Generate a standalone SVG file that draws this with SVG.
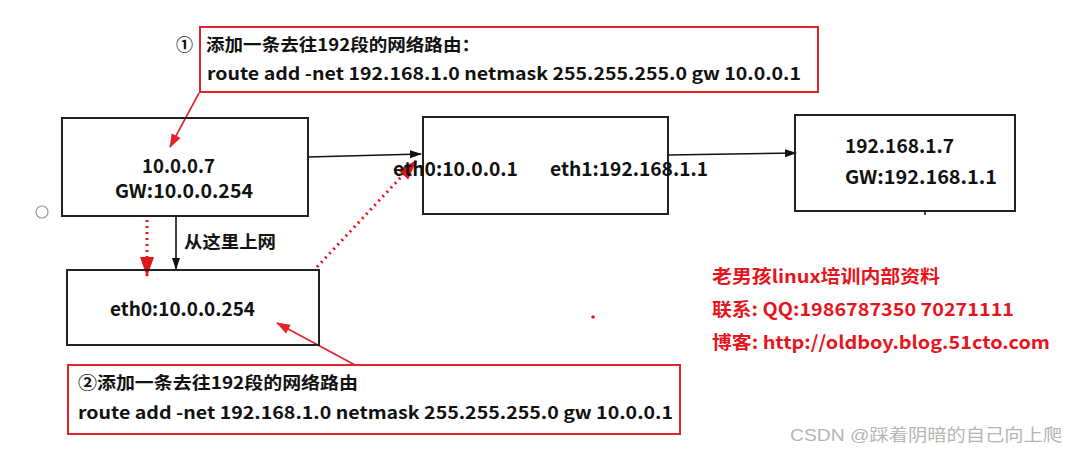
<svg xmlns="http://www.w3.org/2000/svg" width="1074" height="453" viewBox="0 0 1074 453">
<defs>
<style>
.t{font-family:"Noto Sans CJK SC","Liberation Sans",sans-serif;font-weight:bold;font-size:17px;fill:#111}
.n{font-size:19px}
.r{font-family:"Noto Sans CJK SC","Liberation Sans",sans-serif;font-weight:bold;font-size:18px;fill:#e8141c}
.box{fill:none;stroke:#222;stroke-width:2}
.rbox{fill:none;stroke:#e3232b;stroke-width:2}
.bl{stroke:#111;stroke-width:1.6;fill:none}
.rl{stroke:#e3232b;stroke-width:1.6;fill:none}
.rd{stroke:#e8141c;stroke-width:3;stroke-dasharray:2 4;fill:none}
</style>
<marker id="ab" markerWidth="12" markerHeight="10" refX="11" refY="5" orient="auto" markerUnits="userSpaceOnUse"><path d="M0,1 L12,5 L0,9 Z" fill="#111"/></marker>
<marker id="ar" markerWidth="14" markerHeight="12" refX="13" refY="6" orient="auto" markerUnits="userSpaceOnUse"><path d="M0,1 L14,6 L0,11 Z" fill="#e3232b"/></marker>
<marker id="ard" markerWidth="20" markerHeight="16" refX="19" refY="8" orient="auto" markerUnits="userSpaceOnUse"><path d="M0,1 L20,8 L0,15 Z" fill="#e8141c"/></marker>
</defs>
<rect width="1074" height="453" fill="#fff"/>

<g id="connectors">
<line class="bl" x1="308" y1="157" x2="421" y2="154" marker-end="url(#ab)"/>
<line class="bl" x1="668" y1="155" x2="796" y2="153" marker-end="url(#ab)"/>
<line class="bl" x1="176" y1="216" x2="176" y2="269" marker-end="url(#ab)"/>
<line class="rd" x1="147" y1="220" x2="147" y2="276" marker-end="url(#ard)"/>
<line class="rd" x1="317" y1="267" x2="416" y2="161" marker-end="url(#ard)"/>
<line class="rl" x1="199" y1="93" x2="170" y2="147" marker-end="url(#ar)"/>
<line class="rl" x1="355" y1="365" x2="277" y2="323" marker-end="url(#ar)"/>
<text class="t" x="184" y="248" font-size="16" textLength="92" lengthAdjust="spacingAndGlyphs">从这里上网</text>
</g>

<g id="note1">
<rect class="rbox" x="200" y="27" width="618" height="65"/>
<text class="t" x="176" y="51" font-size="16" font-weight="normal">①</text>
<text class="t" x="206" y="51" font-size="17" textLength="274" lengthAdjust="spacingAndGlyphs">添加一条去往192段的网络路由：</text>
<text class="t" x="207" y="80" textLength="594" lengthAdjust="spacingAndGlyphs">route add -net 192.168.1.0 netmask 255.255.255.0 gw 10.0.0.1</text>
</g>

<g id="host">
<rect class="box" x="62" y="118" width="246" height="98"/>
<text class="t n" x="142" y="173" textLength="73" lengthAdjust="spacingAndGlyphs">10.0.0.7</text>
<text class="t n" x="115" y="198" textLength="138" lengthAdjust="spacingAndGlyphs">GW:10.0.0.254</text>
</g>

<g id="gateway">
<rect class="box" x="67" y="270" width="252" height="75"/>
<text class="t n" x="110" y="316" textLength="145" lengthAdjust="spacingAndGlyphs">eth0:10.0.0.254</text>
</g>

<g id="router">
<rect class="box" x="423" y="117" width="245" height="97"/>
<text class="t n" x="393" y="176" textLength="125" lengthAdjust="spacingAndGlyphs">eth0:10.0.0.1</text>
<text class="t n" x="550" y="176" textLength="158" lengthAdjust="spacingAndGlyphs">eth1:192.168.1.1</text>
</g>

<g id="target">
<rect class="box" x="795" y="115" width="220" height="96"/>
<text class="t n" x="845" y="153" textLength="109" lengthAdjust="spacingAndGlyphs">192.168.1.7</text>
<text class="t n" x="845" y="184" textLength="152" lengthAdjust="spacingAndGlyphs">GW:192.168.1.1</text>
<line x1="925" y1="211" x2="925" y2="215" stroke="#111" stroke-width="1.5"/>
</g>

<g id="note2">
<rect class="rbox" x="68" y="365" width="612" height="69"/>
<text class="t" x="78" y="389" font-size="16" textLength="280" lengthAdjust="spacingAndGlyphs">②添加一条去往192段的网络路由</text>
<text class="t" x="78" y="419" textLength="595" lengthAdjust="spacingAndGlyphs">route add -net 192.168.1.0 netmask 255.255.255.0 gw 10.0.0.1</text>
</g>

<g id="info">
<text class="r" x="712" y="283" textLength="228" lengthAdjust="spacingAndGlyphs">老男孩linux培训内部资料</text>
<text class="r" x="712" y="316" textLength="302" lengthAdjust="spacingAndGlyphs">联系: QQ:1986787350 70271111</text>
<text class="r" x="712" y="349" textLength="338" lengthAdjust="spacingAndGlyphs">博客: http://oldboy.blog.51cto.com</text>
</g>

<circle cx="42" cy="212" r="6" fill="none" stroke="#999" stroke-width="1.2"/>
<circle cx="593" cy="317" r="1.8" fill="#e8141c"/>
<text x="790" y="441" font-family="'Liberation Sans','Noto Sans CJK SC',sans-serif" font-size="17" fill="#b5b5b5" textLength="272" lengthAdjust="spacingAndGlyphs">CSDN @踩着阴暗的自己向上爬</text>
</svg>
